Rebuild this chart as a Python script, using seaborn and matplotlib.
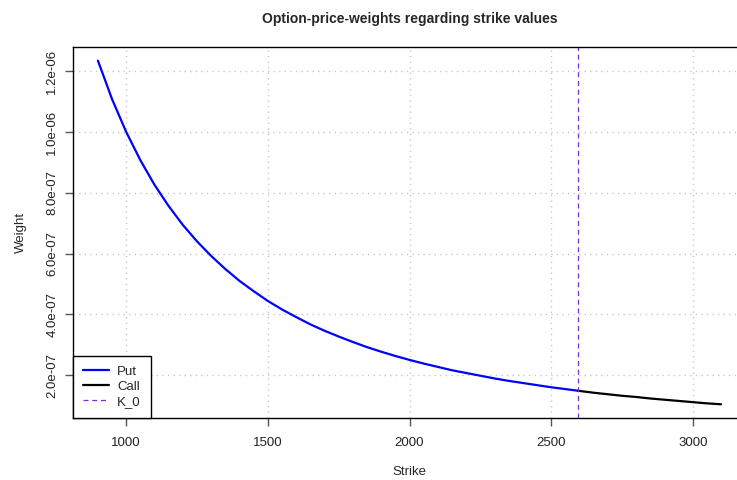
import numpy as np
import pandas as pd
import seaborn as sns
import matplotlib.pyplot as plt
from matplotlib.ticker import FuncFormatter

# values
put_strike = [900, 950, 1000, 1050, 1100, 1150, 1200, 1250, 1300, 1350, 1400,
              1450, 1500, 1550, 1600, 1650, 1700, 1750, 1800, 1850, 1900, 1950,
              2000, 2050, 2100, 2150, 2200, 2250, 2300, 2350, 2400, 2450, 2500,
              2550, 2595]
put_weight = [1.235e-6, 1.108e-6, 1.000e-6, 0.907e-6, 0.826e-6, 0.756e-6,
              0.694e-6, 0.640e-6, 0.592e-6, 0.549e-6, 0.510e-6, 0.476e-6,
              0.444e-6, 0.416e-6, 0.391e-6, 0.367e-6, 0.346e-6, 0.327e-6,
              0.309e-6, 0.292e-6, 0.277e-6, 0.263e-6, 0.250e-6, 0.238e-6,
              0.227e-6, 0.216e-6, 0.207e-6, 0.198e-6, 0.189e-6, 0.181e-6,
              0.174e-6, 0.167e-6, 0.160e-6, 0.154e-6, 0.1485e-6]
call_strike = [2595, 2650, 2700, 2750, 2800, 2850, 2900, 2950, 3000, 3050, 3100]
call_weight = [0.1485e-6, 0.142e-6, 0.137e-6, 0.132e-6, 0.128e-6, 0.123e-6,
               0.119e-6, 0.115e-6, 0.111e-6, 0.107e-6, 0.104e-6]
k0 = 2595

sns.set_style('white')
plt.rcParams['font.family'] = ['Liberation Sans', 'DejaVu Sans']

fig = plt.figure(figsize=(7.37, 4.8), dpi=100)
ax = fig.add_axes([73 / 737, 62 / 480, 673 / 737, 371 / 480])

put = pd.DataFrame({'Strike': put_strike, 'Weight': put_weight})
call = pd.DataFrame({'Strike': call_strike, 'Weight': call_weight})
sns.lineplot(data=put, x='Strike', y='Weight', color='blue', lw=1.6, ax=ax, label='Put')
sns.lineplot(data=call, x='Strike', y='Weight', color='black', lw=1.6, ax=ax, label='Call')
ax.axvline(k0, color='#7b2fd0', ls=(0, (4, 3)), lw=0.9, label='K_0')

ax.set_xlim(812, 3188)
ax.set_ylim(0.0588e-6, 1.28e-6)
ax.set_xticks([1000, 1500, 2000, 2500, 3000])
ax.set_yticks([2e-7, 4e-7, 6e-7, 8e-7, 1e-6, 1.2e-6])
ax.yaxis.set_major_formatter(FuncFormatter(lambda v, p: f'{v:.1e}'))
for lab in ax.get_yticklabels():
    lab.set_rotation(90)
    lab.set_va('center')
ax.tick_params(axis='both', bottom=True, left=True, direction='out', length=5.5,
               width=1, color='#555555', labelsize=9.5, labelcolor='#222222', pad=5)
ax.tick_params(axis='x', pad=8)
ax.grid(True, ls=(0, (1, 3)), color='#c8c8c8', lw=1)
for s in ax.spines.values():
    s.set_color('black')
    s.set_linewidth(1)

ax.set_xlabel('Strike', fontsize=9.5, labelpad=12.5)
ax.set_ylabel('Weight', fontsize=9.5, labelpad=14)
ax.set_title('Option-price-weights regarding strike values', fontsize=10,
             fontweight='bold', pad=17.5)

leg = ax.legend(loc='lower left', borderaxespad=0, fancybox=False, framealpha=1,
                edgecolor='black', fontsize=9.5, handlelength=2.0, labelspacing=0.22,
                borderpad=0.75, handletextpad=0.6)
leg.get_frame().set_linewidth(1)

fig.savefig('out.png', dpi=100)
